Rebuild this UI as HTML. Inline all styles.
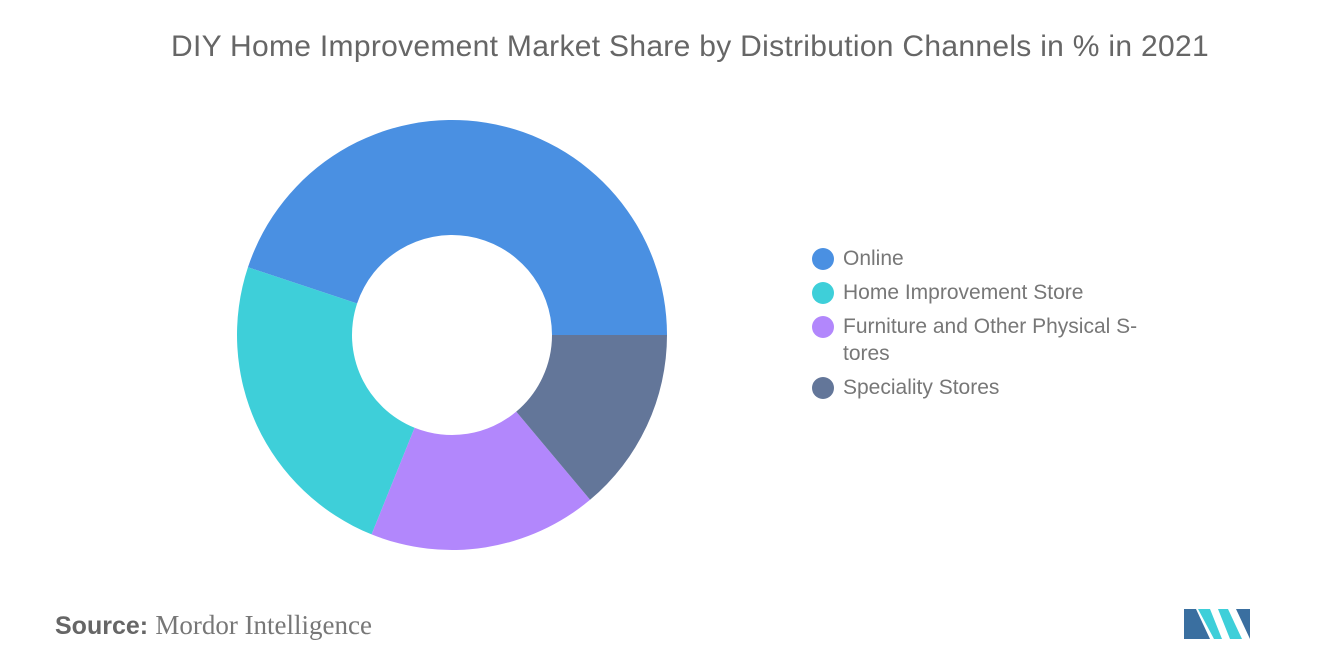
<!DOCTYPE html>
<html><head><meta charset="utf-8"><style>
body{margin:0;width:1320px;height:665px;background:#fff;font-family:"Liberation Sans",sans-serif;overflow:hidden;position:relative}
.title{position:absolute;top:30px;left:0;width:1380px;text-align:center;font-size:30px;color:#666;letter-spacing:0.3px}
.legend{position:absolute;left:812px;top:245px;font-size:21px;color:#777}
.item{position:relative;padding-left:31px;margin-bottom:7px;line-height:27px}
.dot{position:absolute;left:0;top:3px;width:22px;height:22px;border-radius:50%}
.src{position:absolute;left:55px;top:610px;font-size:26px;color:#777}
.src b{font-weight:bold;color:#666;font-family:"Liberation Sans",sans-serif;font-size:25px}
.src span{font-family:"Liberation Serif",serif;font-size:27px}
</style></head><body>
<div class="title">DIY Home Improvement Market Share by Distribution Channels in % in 2021</div>
<svg id="chart" width="1320" height="665" style="position:absolute;left:0;top:0"></svg>
<div class="legend">
<div class="item"><span class="dot" style="background:#4a90e2"></span>Online</div>
<div class="item"><span class="dot" style="background:#3ecfd9"></span>Home Improvement Store</div>
<div class="item"><span class="dot" style="background:#b287fc"></span>Furniture and Other Physical S-<br>tores</div>
<div class="item"><span class="dot" style="background:#637699"></span>Speciality Stores</div>
</div>
<div class="src"><b>Source:</b> <span>Mordor Intelligence</span></div>
<svg style="position:absolute;left:1184px;top:603px" width="66" height="36">
<polygon points="0,36 0,6 12,6 26,36" fill="#3a6fa0"/><polygon points="14,6 26,6 38,36 30,36" fill="#3ecfd9"/>
<polygon points="34,6 44,6 58,36 46,36" fill="#3ecfd9"/><polygon points="52,6 66,6 66,36" fill="#3a6fa0"/>
</svg>
<script>
const categories=["Online","Home Improvement Store","Furniture and Other Physical Stores","Speciality Stores"];
const values=[44.9,24.0,17.2,13.9];
const colors=["#4a90e2","#3ecfd9","#b287fc","#637699"];
const svg=document.getElementById('chart');
const cx=452,cy=335,R=215,r=100;
const total=values.reduce((a,b)=>a+b,0);
let a0=0;
function pt(a,rad){return [cx+rad*Math.cos(a),cy-rad*Math.sin(a)];}
values.forEach((v,i)=>{
const a1=a0+v/total*2*Math.PI;
const large=(a1-a0)>Math.PI?1:0;
const [x0,y0]=pt(a0,R),[x1,y1]=pt(a1,R),[x2,y2]=pt(a1,r),[x3,y3]=pt(a0,r);
const p=document.createElementNS('http://www.w3.org/2000/svg','path');
p.setAttribute('d',`M${x0},${y0} A${R},${R} 0 ${large} 0 ${x1},${y1} L${x2},${y2} A${r},${r} 0 ${large} 1 ${x3},${y3} Z`);
p.setAttribute('fill',colors[i]);


svg.appendChild(p);
a0=a1;
});
</script>
</body></html>
